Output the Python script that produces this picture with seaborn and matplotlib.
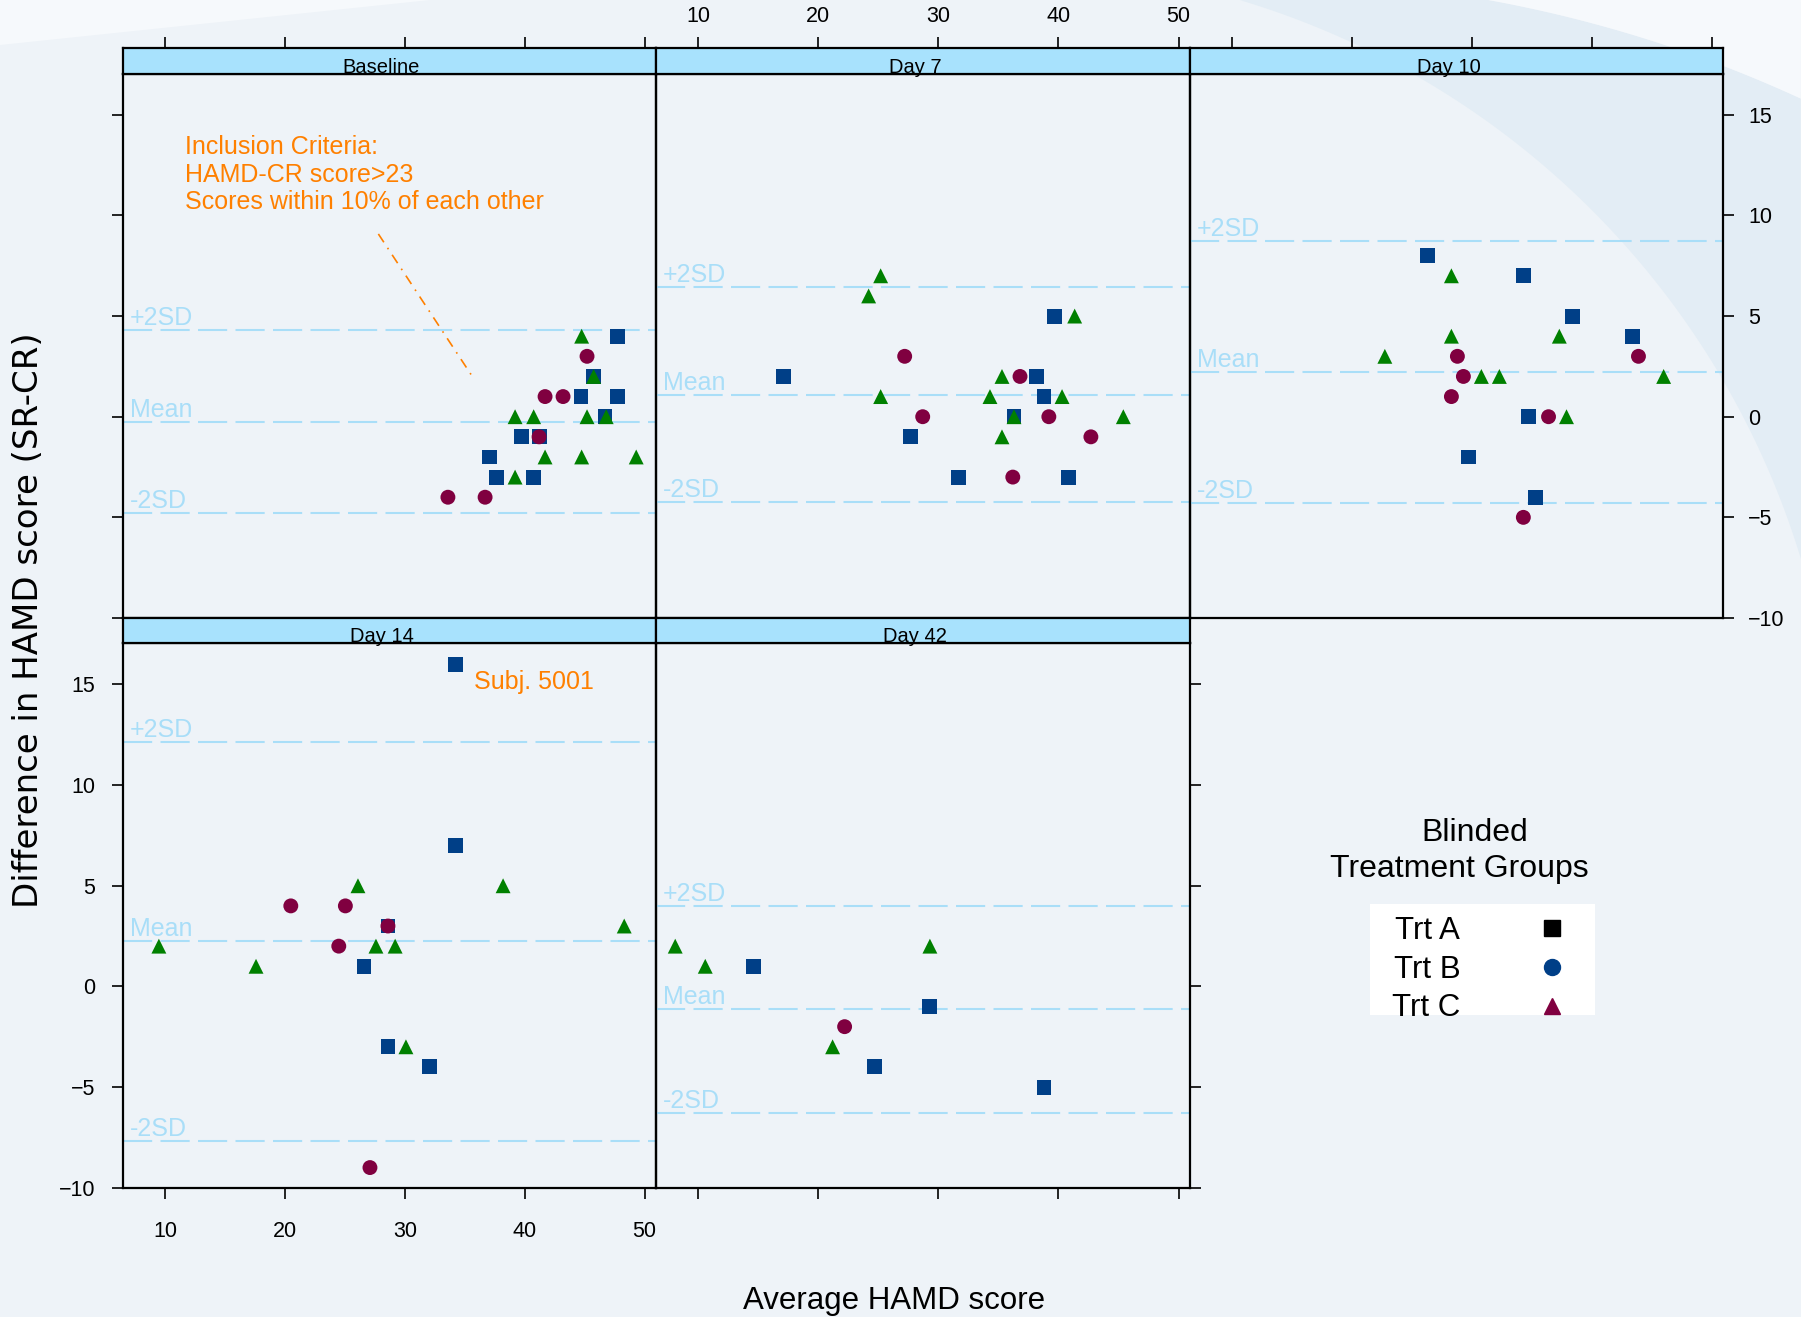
import matplotlib
matplotlib.use('Agg')

import matplotlib.pyplot as plt
from matplotlib.lines import Line2D
from matplotlib.patches import Polygon, Rectangle
import seaborn as sns
import pandas as pd
import numpy as np

visits = ['Baseline', 'Day 7', 'Day 10', 'Day 14', 'Day 42']
groups = ['Trt A', 'Trt B', 'Trt C']

# average HAMD score (x) and SR-CR difference (y) per visit
base_avg = [47.75, 45.75, 44.7, 47.75, 46.7, 39.7, 41.2, 37.1, 37.65, 40.7,
            45.2, 41.7, 43.2, 41.2, 33.6, 36.7,
            44.75, 45.75, 39.2, 40.75, 45.2, 46.8, 41.7, 44.75, 49.3, 39.2]
base_diff = [4, 2, 1, 1, 0, -1, -1, -2, -3, -3,
             3, 1, 1, -1, -4, -4,
             4, 2, 0, 0, 0, 0, -2, -2, -2, -3]
base_trt = ['Trt A'] * 10 + ['Trt B'] * 6 + ['Trt C'] * 10

d7_avg = [39.7, 17.1, 38.2, 38.8, 36.3, 27.7, 31.7, 40.8,
          27.2, 36.8, 28.7, 39.2, 42.7, 36.2,
          25.2, 24.2, 41.35, 35.3, 34.3, 25.2, 40.3, 36.3, 45.4, 35.3]
d7_diff = [5, 2, 2, 1, 0, -1, -3, -3,
           3, 2, 0, 0, -1, -3,
           7, 6, 5, 2, 1, 1, 1, 0, 0, -1]
d7_trt = ['Trt A'] * 8 + ['Trt B'] * 6 + ['Trt C'] * 10

d10_avg = [26.3, 34.3, 38.4, 43.4, 34.7, 29.75, 35.3,
           28.8, 43.9, 29.3, 28.3, 36.4, 34.3,
           28.3, 28.3, 37.3, 22.75, 30.8, 32.3, 46.0, 37.9]
d10_diff = [8, 7, 5, 4, 0, -2, -4,
            3, 3, 2, 1, 0, -5,
            7, 4, 4, 3, 2, 2, 2, 0]
d10_trt = ['Trt A'] * 7 + ['Trt B'] * 6 + ['Trt C'] * 8

d14_avg = [34.2, 34.2, 28.6, 26.6, 28.6, 32.1,
           20.5, 25.05, 28.6, 24.5, 27.1,
           9.5, 17.6, 26.1, 27.6, 29.2, 38.2, 48.3, 30.1]
d14_diff = [16, 7, 3, 1, -3, -4,
            4, 4, 3, 2, -9,
            2, 1, 5, 2, 2, 5, 3, -3]
d14_trt = ['Trt A'] * 6 + ['Trt B'] * 5 + ['Trt C'] * 8

d42_avg = [14.6, 29.3, 24.7, 38.8,
           22.2,
           8.1, 10.6, 21.2, 29.3]
d42_diff = [1, -1, -4, -5,
            -2,
            2, 1, -3, 2]
d42_trt = ['Trt A'] * 4 + ['Trt B'] * 1 + ['Trt C'] * 4

# mean and +/-2SD reference lines per visit
ref_mean = [-0.24, 1.1, 2.2, 2.24, -1.14]
ref_upper = [4.29, 6.46, 8.74, 12.15, 4.01]
ref_lower = [-4.76, -4.25, -4.30, -7.67, -6.30]

df = pd.concat([
    pd.DataFrame({'visit': 'Baseline', 'avg': base_avg, 'diff': base_diff, 'trt': base_trt}),
    pd.DataFrame({'visit': 'Day 7', 'avg': d7_avg, 'diff': d7_diff, 'trt': d7_trt}),
    pd.DataFrame({'visit': 'Day 10', 'avg': d10_avg, 'diff': d10_diff, 'trt': d10_trt}),
    pd.DataFrame({'visit': 'Day 14', 'avg': d14_avg, 'diff': d14_diff, 'trt': d14_trt}),
    pd.DataFrame({'visit': 'Day 42', 'avg': d42_avg, 'diff': d42_diff, 'trt': d42_trt}),
], ignore_index=True)

sns.set_style('ticks')
plt.rcParams['font.family'] = ['Liberation Sans', 'DejaVu Sans']
plt.rcParams['text.color'] = 'black'
plt.rcParams['xtick.color'] = 'black'
plt.rcParams['ytick.color'] = 'black'

W, H = 1801, 1317
BG = '#EEF3F8'
STRIP = '#A8E2FD'
REF = '#A9DEF8'
ORANGE = '#FF8000'
palette = {'Trt A': '#003F87', 'Trt B': '#800040', 'Trt C': '#008000'}
markers = {'Trt A': 's', 'Trt B': 'o', 'Trt C': '^'}

fig = plt.figure(figsize=(W / 100, H / 100), dpi=100, facecolor=BG)


def box(x0, y0, x1, y1):
    return [x0 / W, 1 - y1 / H, (x1 - x0) / W, (y1 - y0) / H]


# background decoration: light wedge top-left, curved bands top-right
bg = fig.add_axes([0, 0, 1, 1], zorder=-10)
bg.set_xlim(0, W)
bg.set_ylim(H, 0)
bg.axis('off')
bg.add_patch(Polygon([(0, 0), (430, 0), (0, 45)], closed=True, color='#F6F9FC', lw=0))

t_in = np.linspace(np.arctan2(0 - 802, 1240 - 1000), np.arctan2(559 - 802, 1801 - 1000), 80)
inner = np.column_stack([1000 + 837 * np.cos(t_in), 802 + 837 * np.sin(t_in)])
t_out = np.linspace(np.arctan2(98 - 1284, 1801 - 1255), np.arctan2(0 - 1284, 1480 - 1255), 60)
outer = np.column_stack([1255 + 1305 * np.cos(t_out), 1284 + 1305 * np.sin(t_out)])
band = np.vstack([inner, outer])
bg.add_patch(Polygon(band, closed=True, color='#E3EDF5', lw=0))
bg.add_patch(Polygon(np.vstack([outer, [[1801, 0]]]), closed=True, color='#F6F9FC', lw=0))
bg.add_patch(Rectangle((1370, 904), 225, 111, color='white', lw=0))

cols = [(122.9, 656.0), (656.0, 1190.0), (1190.0, 1723.0)]
panel_rows = [(73.5, 618.0), (643.2, 1187.7)]
strip_rows = [(48.2, 73.5), (618.0, 643.2)]
layout = {'Baseline': (0, 0), 'Day 7': (0, 1), 'Day 10': (0, 2), 'Day 14': (1, 0), 'Day 42': (1, 1)}

XLIM = (6.5, 50.95)
YLIM = (-10, 17.05)
xticks = [10, 20, 30, 40, 50]
yticks = [-10, -5, 0, 5, 10, 15]
tick_kw = dict(length=8, width=1.2, color='black', labelsize=15.5, labelcolor='black')

axes = {}
for i, v in enumerate(visits):
    r, c = layout[v]
    x0, x1 = cols[c]
    ax = fig.add_axes(box(x0, panel_rows[r][0], x1, panel_rows[r][1]))
    ax.set_facecolor('none')
    sub = df[df.visit == v]
    sns.scatterplot(data=sub, x='avg', y='diff', hue='trt', style='trt',
                    hue_order=groups, style_order=groups, palette=palette,
                    markers=markers, s=115, linewidth=0, legend=False, ax=ax, zorder=3)
    for lvl, lbl in [(ref_upper[i], '+2SD'), (ref_mean[i], 'Mean'), (ref_lower[i], '-2SD')]:
        ax.axhline(lvl, color=REF, lw=1.5, ls=(0, (14, 4)), zorder=1)
        ax.annotate(lbl, xy=(0, lvl), xycoords=('axes fraction', 'data'),
                    xytext=(7, 5), textcoords='offset pixels', color=REF,
                    fontsize=18, va='baseline', ha='left')
    ax.set_xlim(XLIM)
    ax.set_ylim(YLIM)
    ax.set_xticks(xticks)
    ax.set_yticks(yticks)
    ax.set_xlabel('')
    ax.set_ylabel('')
    for sp in ax.spines.values():
        sp.set_linewidth(1.6)
        sp.set_color('black')
    ax.tick_params(axis='x', top=False, labeltop=False,
                   bottom=(r == 1), labelbottom=(v == 'Day 14'), pad=16, **tick_kw)
    ax.tick_params(axis='y', left=(c == 0), labelleft=(v == 'Day 14'),
                   right=(c == 2 or v == 'Day 42'), labelright=(v == 'Day 10'), **tick_kw)
    ax.tick_params(axis='y', which='major', pad=12 if c == 0 else 10)
    axes[v] = ax

    sax = fig.add_axes(box(x0, strip_rows[r][0], x1, strip_rows[r][1]))
    sax.set_facecolor(STRIP)
    sax.set_xlim(XLIM)
    sax.set_ylim(0, 1)
    sax.set_yticks([])
    sax.set_xticks(xticks)
    for sp in sax.spines.values():
        sp.set_linewidth(1.6)
        sp.set_color('black')
    sax.tick_params(axis='x', bottom=False, labelbottom=False,
                    top=(r == 0), labeltop=(v == 'Day 7'), pad=7, **tick_kw)
    sax.text(0.485, 0.03, v, transform=sax.transAxes, ha='center', va='baseline', fontsize=14.5)

# annotations
axb = axes['Baseline']
axb.text(11.7, 14.0, 'Inclusion Criteria:\nHAMD-CR score>23\nScores within 10% of each other',
         color=ORANGE, fontsize=18, va='top', ha='left', linespacing=1.2)
axb.plot([27.8, 35.8], [9.08, 1.85], color=ORANGE, lw=1.2, ls=(0, (6, 4, 1, 4)))
axes['Day 14'].text(35.8, 15.13, 'Subj. 5001', color=ORANGE, fontsize=18, va='center', ha='left')

# axis titles
fig.text(894 / W, 1 - 1309 / H, 'Average HAMD score', ha='center', va='baseline', fontsize=22.5)
fig.text(29 / W, 1 - 620 / H, 'Difference in HAMD score (SR-CR)', ha='center', va='center',
         rotation=90, fontsize=24.5, family=['DejaVu Sans'])

# legend
fig.text(1475 / W, 1 - 833 / H, 'Blinded', ha='center', va='center', fontsize=23)
fig.text(1459 / W, 1 - 869.5 / H, 'Treatment Groups', ha='center', va='center', fontsize=23)
handles = [Line2D([], [], ls='none', marker='s', color='black', markersize=11),
           Line2D([], [], ls='none', marker='o', color='#003F87', markersize=11.5),
           Line2D([], [], ls='none', marker='^', color='#800040', markersize=11.5)]
fig.legend(handles, groups, loc='upper left', bbox_to_anchor=(1392 / W, 1 - 916 / H),
           frameon=False, markerfirst=False, fontsize=22.5, borderpad=0, borderaxespad=0,
           handlelength=2, handletextpad=1.95, labelspacing=0.28)

fig.savefig('out.png', dpi=100, facecolor=fig.get_facecolor())
